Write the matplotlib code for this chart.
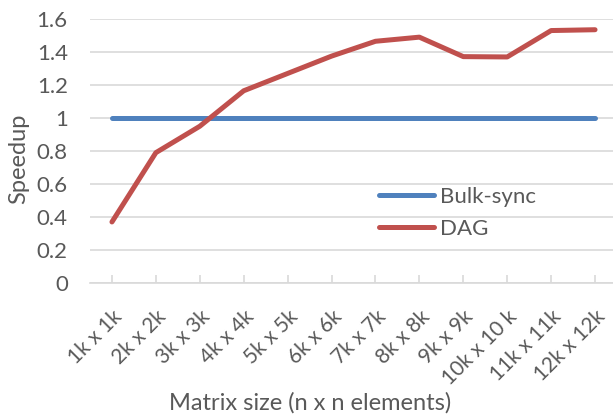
import matplotlib.pyplot as plt

sizes = ["1k x 1k", "2k x 2k", "3k x 3k", "4k x 4k", "5k x 5k", "6k x 6k",
         "7k x 7k", "8k x 8k", "9k x 9k", "10k x 10 k", "11k x 11k", "12k x 12k"]
bulk_sync = [1, 1, 1, 1, 1, 1, 1, 1, 1, 1, 1, 1]
dag = [0.37, 0.79, 0.95, 1.165, 1.27, 1.375, 1.465, 1.49, 1.372, 1.37, 1.53, 1.535]

text_color = "#595959"
grid_color = "#D9D9D9"

plt.rcParams["font.family"] = ["Lato", "DejaVu Sans"]

fig = plt.figure(figsize=(6.13, 4.16), dpi=100)
ax = fig.add_axes([90 / 613, 133 / 416, 527 / 613, 264 / 416])

x = range(len(sizes))
ax.plot(x, bulk_sync, color="#4F81BD", lw=3.6, solid_capstyle="round", label="Bulk-sync", zorder=3)
ax.plot(x, dag, color="#C0504D", lw=3.6, solid_capstyle="round", label="DAG", zorder=3)

ax.set_xlim(-0.5, len(sizes) - 0.5)
ax.set_ylim(0, 1.6)
ax.set_yticks([0, 0.2, 0.4, 0.6, 0.8, 1, 1.2, 1.4, 1.6])
ax.set_yticklabels(["0", "0.2", "0.4", "0.6", "0.8", "1", "1.2", "1.4", "1.6"])
ax.yaxis.grid(True, color=grid_color, lw=1.2)
ax.set_axisbelow(True)

ax.set_xticks(list(x))
ax.set_xticklabels(sizes, rotation=45, ha="right", rotation_mode="anchor")

for s in ["top", "right", "left"]:
    ax.spines[s].set_visible(False)
ax.spines["bottom"].set_color(grid_color)
ax.spines["bottom"].set_linewidth(1.2)
ax.tick_params(axis="y", length=0, pad=16, labelsize=16, labelcolor=text_color)
ax.tick_params(axis="x", direction="in", length=6, color=grid_color, width=1.2,
               pad=17, labelsize=15, labelcolor=text_color)

ax.set_ylabel("Speedup", fontsize=17, color=text_color)
ax.set_xlabel("Matrix size (n x n elements)", fontsize=17, color=text_color)
ax.yaxis.set_label_coords(-0.115, 0.47)
ax.xaxis.set_label_coords(0.417, -0.415)

leg = ax.legend(loc="center left", bbox_to_anchor=(0.51, 0.265), frameon=False,
                fontsize=16, handlelength=2.5, handletextpad=0.25, labelspacing=0.55)
for t in leg.get_texts():
    t.set_color(text_color)

fig.savefig("out.png", dpi=100)
